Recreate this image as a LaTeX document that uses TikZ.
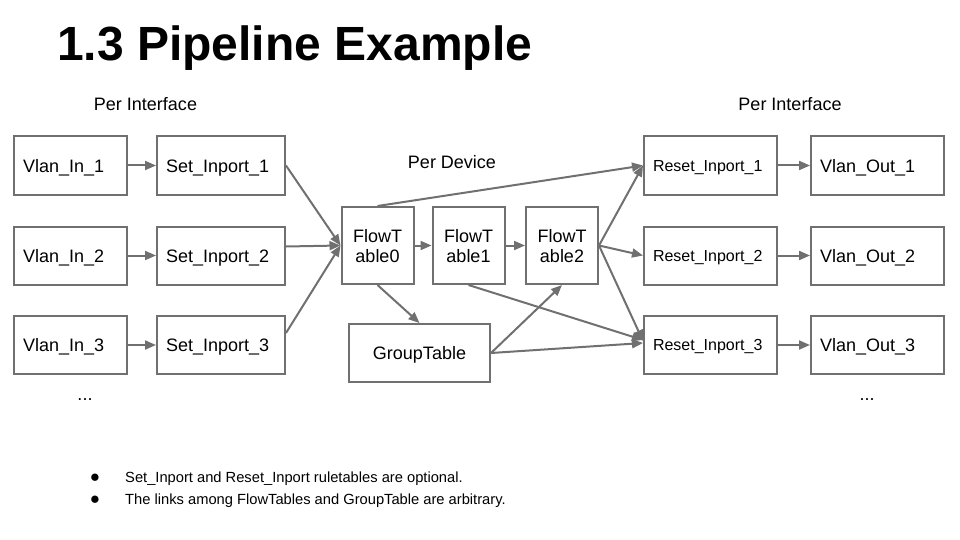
\documentclass[tikz,border=0pt]{standalone}
\usepackage{fontspec}
\setmainfont{Liberation Sans}
\usetikzlibrary{arrows.meta}
\definecolor{edgegray}{RGB}{112,112,112}
\begin{document}
\begin{tikzpicture}[x=1pt,y=-1pt,
  tablebox/.style={draw=edgegray, line width=2pt, fill=white, inner sep=0pt,
    minimum height=58pt, text=black, text height=13pt, text depth=0pt,
    font=\fontsize{18}{20}\selectfont},
  % tables whose label sits at the left, padded from the border
  leftbox/.style={tablebox, inner xsep=9pt, text width=#1, align=left},
  smallbox/.style={leftbox=#1, text height=11.5pt, font=\fontsize{16}{18}\selectfont},
  flowbox/.style={draw=edgegray, line width=2pt, fill=white, inner sep=0pt,
    minimum width=72pt, minimum height=77pt, align=center, text depth=0pt,
    font=\fontsize{18}{20}\selectfont},
  link/.style={draw=edgegray, line width=2pt, -{Triangle[length=11pt,width=9pt]}},
  caption/.style={font=\fontsize{18}{20}\selectfont, inner sep=0pt},
  bullettext/.style={font=\fontsize{14.7}{18}\selectfont, anchor=base west, inner sep=0pt},
  bulletdot/.style={font=\fontsize{17}{18}\selectfont, anchor=base, inner sep=0pt}
]
\useasboundingbox (0,0) rectangle (960,540);

% title
\node[anchor=base west, inner sep=0pt, font=\fontsize{48}{50}\selectfont\bfseries] (title) at (57,61) {1.3 Pipeline Example};

% group captions
\node[caption, anchor=base] (capin) at (145.5,111) {Per Interface};
\node[caption, anchor=base] (capout) at (790,111) {Per Interface};
\node[caption, anchor=base] (capdev) at (452,168) {Per Device};

% ingress tables
\node[leftbox=95pt] (vi1) at (70.5,165.5) {Vlan\_In\_1};
\node[leftbox=95pt] (vi2) at (70.5,255.5) {Vlan\_In\_2};
\node[leftbox=95pt] (vi3) at (70.5,345) {Vlan\_In\_3};
\node[leftbox=110pt] (si1) at (221,165.5) {Set\_Inport\_1};
\node[leftbox=110pt] (si2) at (221,255.5) {Set\_Inport\_2};
\node[leftbox=110pt] (si3) at (221,345) {Set\_Inport\_3};
\node[caption, anchor=base] (dotsin) at (85,400) {...};

% per-device tables
\node[flowbox] (ft0) at (377.5,245.5) {FlowT\\able0};
\node[flowbox] (ft1) at (468.5,245.5) {FlowT\\able1};
\node[flowbox] (ft2) at (562,245.5) {FlowT\\able2};
\node[tablebox, minimum width=141pt] (gt) at (419.5,353) {GroupTable};

% egress tables
\node[smallbox=115pt] (ri1) at (710.5,165.5) {Reset\_Inport\_1};
\node[smallbox=115pt] (ri2) at (710.5,255.5) {Reset\_Inport\_2};
\node[smallbox=115pt] (ri3) at (710.5,345) {Reset\_Inport\_3};
\node[leftbox=115pt] (vo1) at (877.5,165.5) {Vlan\_Out\_1};
\node[leftbox=115pt] (vo2) at (877.5,255.5) {Vlan\_Out\_2};
\node[leftbox=115pt] (vo3) at (877.5,345) {Vlan\_Out\_3};
\node[caption, anchor=base] (dotsout) at (867,400) {...};

% ingress links
\draw[link] (vi1) -- (si1);
\draw[link] (vi2) -- (si2);
\draw[link] (vi3) -- (si3);
\draw[link] (si1.east) -- (ft0.west);
\draw[link] ([yshift=9pt]si2.east) -- (ft0.west);
\draw[link] ([yshift=12pt]si3.east) -- (ft0.west);

% links among the per-device tables
\draw[link] (ft0) -- (ft1);
\draw[link] (ft1) -- (ft2);
\draw[link] (ft0.south) -- (gt.north);
\draw[link] (gt.east) -- (ft2.south);

% egress links
\draw[link] (ft0.north) -- (ri1.west);
\draw[link] (ft1.south) -- ([yshift=5pt]ri3.west);
\draw[link] (gt.east) -- ([yshift=2pt]ri3.west);
\draw[link] (ft2.east) -- (ri1.west);
\draw[link] (ft2.east) -- (ri2.west);
\draw[link] (ft2.east) -- ([yshift=4pt]ri3.west);
\draw[link] (ri1) -- (vo1);
\draw[link] (ri2) -- (vo2);
\draw[link] (ri3) -- (vo3);

% notes
\node[bulletdot] (dot1) at (95,482) {●};
\node[bullettext] (note1) at (125,482) {Set\_Inport and Reset\_Inport ruletables are optional.};
\node[bulletdot] (dot2) at (95,504) {●};
\node[bullettext] (note2) at (125,504) {The links among FlowTables and GroupTable are arbitrary.};
\end{tikzpicture}
\end{document}
